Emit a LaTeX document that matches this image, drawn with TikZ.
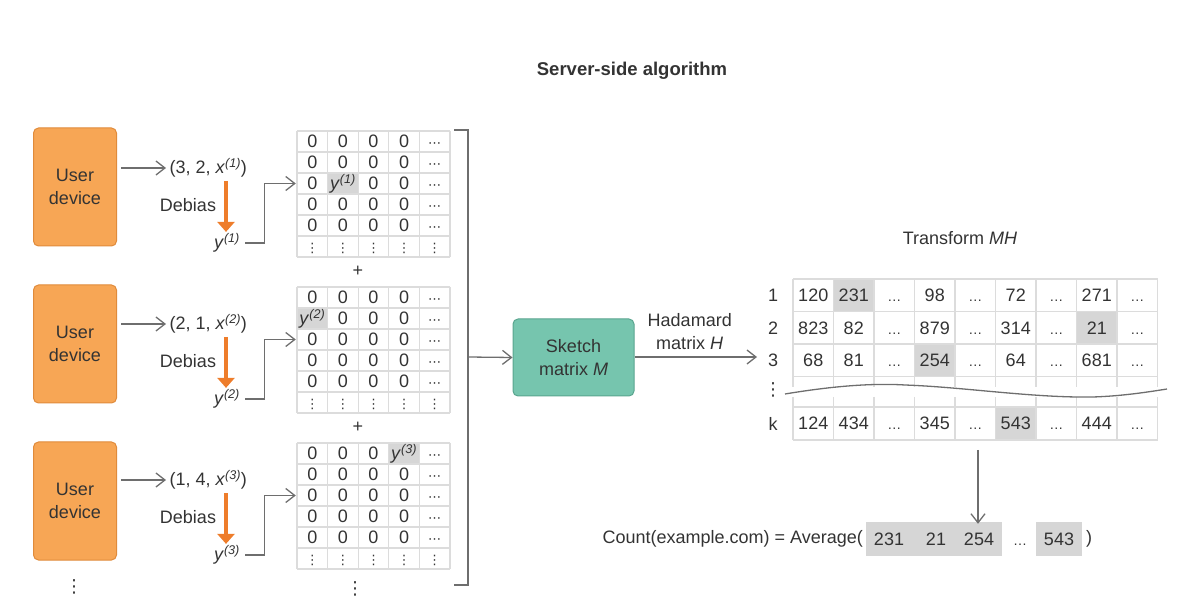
\documentclass[tikz,border=0pt]{standalone}
\usepackage{fontspec}
\setmainfont{Liberation Sans}
\newfontfamily\dotsfont{DejaVu Sans}
\usetikzlibrary{positioning}
\usetikzlibrary{arrows.meta}

\definecolor{devorange}{HTML}{F7A655}
\definecolor{devedge}{HTML}{E08B3B}
\definecolor{debiasorange}{HTML}{EE7D2B}
\definecolor{sketchgreen}{HTML}{76C5AE}
\definecolor{sketchedge}{HTML}{5AA58F}
\definecolor{gridgray}{HTML}{DCDCDC}
\definecolor{cellgray}{HTML}{D6D6D6}
\definecolor{linegray}{HTML}{6E6E6E}
\definecolor{textgray}{HTML}{333333}

\newcommand{\celldots}{{\dotsfont\fontsize{13}{13}\selectfont ⋯}}
\newcommand{\cellvdots}{{\dotsfont\fontsize{13}{13}\selectfont ⋮}}
\newcommand{\bigvdots}{{\dotsfont\fontsize{18}{18}\selectfont ⋮}}
\newcommand{\tdots}{{\fontsize{14}{14}\selectfont …}}

% sparse matrix of one user: name, top, row, column, entry
\newcommand{\zeromat}[5]{%
	\begin{scope}[shift={(297,#2)}]
		\fill[cellgray] ({(#4-1)*30.6},{(#3-1)*21}) rectangle ++(30.6,21);
		\foreach \cc in {0,...,5} \draw[gridline] (\cc*30.6,0) -- (\cc*30.6,126);
		\foreach \rr in {0,...,6} \draw[gridline] (0,\rr*21) -- (153,\rr*21);
		\foreach \rr in {1,...,5} {
			\foreach \cc in {1,...,4} {
				\node[entry] (#1-\rr-\cc) at (\cc*30.6-15.3,\rr*21-10.5) {\ifnum\rr=#3 \ifnum\cc=#4 #5\else 0\fi\else 0\fi};
			}
			\node[entry] (#1-\rr-5) at (137.7,\rr*21-10.5) {\celldots};
		}
		\foreach \cc in {1,...,5} \node[entry] (#1-6-\cc) at (\cc*30.6-15.3,115.5) {\cellvdots};
	\end{scope}}

\begin{document}
\begin{tikzpicture}[x=1pt,y=-1pt,
	every node/.style={font=\fontsize{18}{23}\selectfont, text=textgray},
	device/.style={draw=devedge, fill=devorange, line width=1pt, rounded corners=5pt, minimum width=83pt, minimum height=118pt, align=center, inner sep=0pt},
	sketch/.style={draw=sketchedge, fill=sketchgreen, line width=1pt, rounded corners=5pt, minimum width=121pt, minimum height=77pt, align=center, inner sep=0pt},
	flow/.style={draw=linegray, line width=1.3pt, -{Straight Barb[length=9pt,width=14pt]}},
	debias/.style={draw=debiasorange, line width=4.5pt, -{Triangle[length=10pt,width=17pt]}},
	gridline/.style={draw=gridgray, line width=1.2pt},
	entry/.style={minimum width=30.6pt, minimum height=21pt, inner sep=0pt, text height=12.5pt, text depth=0pt},
	tabentry/.style={minimum width=40.5pt, minimum height=32.5pt, inner sep=0pt, text height=13pt, text depth=0pt},
	hl/.style={fill=cellgray, inner sep=0pt}
]
	\useasboundingbox (0,0) rectangle (1200,601);
	
	\node[font=\fontsize{18.5}{23}\selectfont\bfseries] (title) at (632,71) {Server-side algorithm};
	
	% users
	\node[device] (dev1) at (75,187) {User\\device};
	\node[device] (dev2) [below = 38pt of dev1] {User\\device};
	\node[device] (dev3) [below = 38pt of dev2] {User\\device};
	\node (devdots) at (74,587) {\bigvdots};
	
	\node[anchor=west] (tup1) at (166,168) {(3, 2, \textit{x}\textsuperscript{\textit{(1)}})};
	\node[anchor=west] (tup2) at (166,324) {(2, 1, \textit{x}\textsuperscript{\textit{(2)}})};
	\node[anchor=west] (tup3) at (166,480) {(1, 4, \textit{x}\textsuperscript{\textit{(3)}})};
	\draw[flow] ([xshift=4pt]dev1.east |- tup1) -- (tup1);
	\draw[flow] ([xshift=4pt]dev2.east |- tup2) -- (tup2);
	\draw[flow] ([xshift=4pt]dev3.east |- tup3) -- (tup3);
	
	\node (deb1) at (188,205) {Debias};
	\node (deb2) at (188,361) {Debias};
	\node (deb3) at (188,517) {Debias};
	\node (y1) at (227,243) {\textit{y}\textsuperscript{\textit{(1)}}};
	\node (y2) at (227,399) {\textit{y}\textsuperscript{\textit{(2)}}};
	\node (y3) at (227,555) {\textit{y}\textsuperscript{\textit{(3)}}};
	\coordinate (db1) at (226,181);
	\coordinate (db2) at (226,337);
	\coordinate (db3) at (226,493);
	\draw[debias, shorten >=-2pt] (db1) -- (db1 |- y1.north);
	\draw[debias, shorten >=-2pt] (db2) -- (db2 |- y2.north);
	\draw[debias, shorten >=-2pt] (db3) -- (db3 |- y3.north);
	
	% matrices
	\zeromat{ma}{131}{3}{2}{\textit{y}\textsuperscript{\textit{(1)}}}
	\zeromat{mb}{287}{2}{1}{\textit{y}\textsuperscript{\textit{(2)}}}
	\zeromat{mc}{443}{1}{4}{\textit{y}\textsuperscript{\textit{(3)}}}
	\node (plus1) at (358,271) {+};
	\node (plus2) at (358,427) {+};
	\node (matdots) at (355,589) {\bigvdots};
	
	\draw[flow, shorten >=1pt] ([xshift=2pt]y1.east) -| ([xshift=-32pt]ma-3-1.west) -- (ma-3-1.west);
	\draw[flow, shorten >=1pt] ([xshift=2pt]y2.east) -| ([xshift=-32pt]mb-3-1.west) -- (mb-3-1.west);
	\draw[flow, shorten >=1pt] ([xshift=2pt]y3.east) -| ([xshift=-32pt]mc-3-1.west) -- (mc-3-1.west);
	
	% sum bracket and sketch
	\draw[linegray, line width=1.3pt] (454,130) -- (468,130) -- (468,585) -- (454,585);
	\node[sketch] (sketch) at (573.5,357.5) {Sketch\\matrix \textit{M}};
	\coordinate (brk) at (468,357);
	\draw[flow] (brk) -- (sketch.west);
	\coordinate (hadend) at (757,357);
	\draw[flow] (sketch.east |- hadend) -- node[above=3pt, xshift=-6pt, align=center] {Hadamard\\matrix \textit{H}} (hadend);
	
	% transform table
	\node (transform) at (960,238) {Transform \textit{MH}};
	\begin{scope}[shift={(793,279)}]
		\fill[cellgray] (40.5,0) rectangle ++(40.5,32.5);
		\fill[cellgray] (283.5,32.5) rectangle ++(40.5,32.5);
		\fill[cellgray] (121.5,65) rectangle ++(40.5,32.5);
		\fill[cellgray] (202.5,128) rectangle ++(40.5,33);
		\foreach \cc in {0,...,9} {
			\draw[gridline] (\cc*40.5,0) -- (\cc*40.5,108);
			\draw[gridline] (\cc*40.5,118) -- (\cc*40.5,161);
		}
		\foreach \rr in {0,32.5,65,97.5,128,161} \draw[gridline] (0,\rr) -- (364.5,\rr);
		\foreach \v [count=\cc] in {120,231,\tdots,98,\tdots,72,\tdots,271,\tdots}
			\node[tabentry] (t1-\cc) at (\cc*40.5-20.25,16.25) {\v};
		\foreach \v [count=\cc] in {823,82,\tdots,879,\tdots,314,\tdots,21,\tdots}
			\node[tabentry] (t2-\cc) at (\cc*40.5-20.25,48.75) {\v};
		\foreach \v [count=\cc] in {68,81,\tdots,254,\tdots,64,\tdots,681,\tdots}
			\node[tabentry] (t3-\cc) at (\cc*40.5-20.25,81.25) {\v};
		\foreach \v [count=\cc] in {124,434,\tdots,345,\tdots,543,\tdots,444,\tdots}
			\node[tabentry] (tk-\cc) at (\cc*40.5-20.25,144.5) {\v};
		\node (lab1) at (-20,16.25) {1};
		\node (lab2) at (-20,48.75) {2};
		\node (lab3) at (-20,81.25) {3};
		\node (labdots) at (-20,111) {\bigvdots};
		\node (labk) at (-20,144.5) {k};
		\draw[draw=linegray, line width=1.3pt] (-8,115) .. controls (40,107) and (80,104) .. (112,106) .. controls (170,108) and (240,119) .. (300,118) .. controls (330,117) and (355,113) .. (374,110);
	\end{scope}
	
	% average of the picked entries
	\coordinate (tabbot) at (978,450);
	\node[anchor=east, inner sep=1pt] (count) at (864,539) {Count(example.com) = Average(};
	\node[hl, minimum width=136pt, minimum height=34pt] (avgbox) at (934,539) {};
	\node (a1) at (889,539) {231};
	\node (a2) at (936,539) {21};
	\node (a3) at (979,539) {254};
	\node[text height=13pt, text depth=0pt] (adots) at (1020,539) {\tdots};
	\node[hl, minimum width=46pt, minimum height=34pt] (a4) at (1059,539) {543};
	\node (close) at (1089,539) {)};
	\draw[flow] (tabbot) -- ([yshift=-2pt]tabbot |- avgbox.north);
\end{tikzpicture}
\end{document}
